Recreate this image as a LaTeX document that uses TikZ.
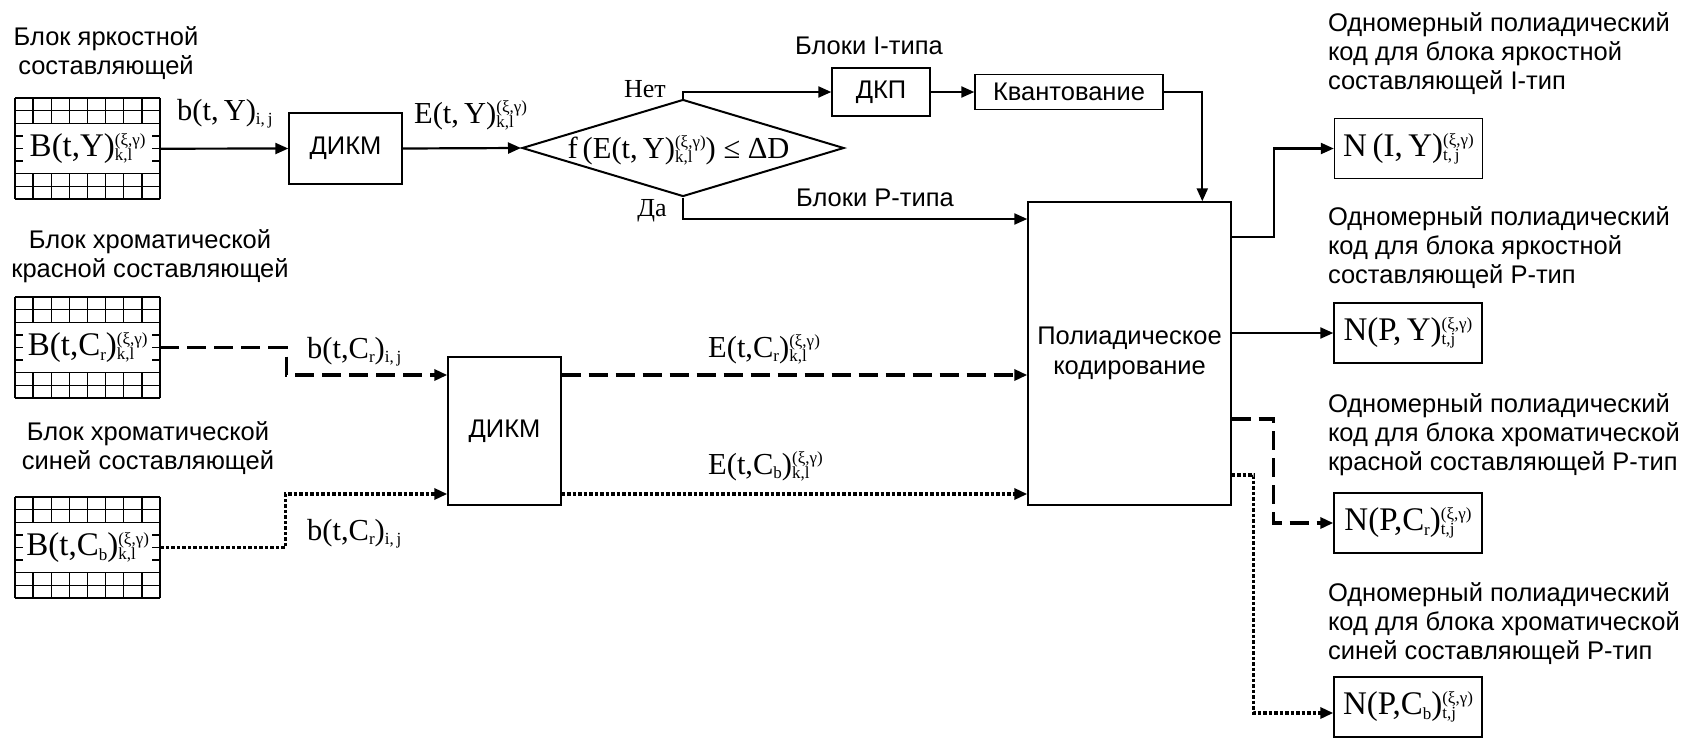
\documentclass[tikz,border=0pt]{standalone}
\usepackage{fontspec}
\setmainfont{Liberation Sans}
\newfontfamily\tms{Liberation Serif}
\usetikzlibrary{arrows.meta,shapes.geometric}
\newcommand\lo[1]{\raisebox{-4.5pt}{\fontsize{17}{17}\selectfont #1}}
\newcommand\sps[2]{{\fontsize{17}{17}\selectfont\setbox0\hbox{\raisebox{11pt}{#1}}\setbox2\hbox{\raisebox{-4pt}{#2}}\ifdim\wd0>\wd2 \rlap{\box2}\box0 \else\rlap{\box0}\box2 \fi}}
\newcommand\gridblk[4]{%
 \foreach \i in {0,...,8}{\draw[gridln] ({#2+\i*18.125},#3) -- ({#2+\i*18.125},{#3+101});}
 \foreach \j in {0,...,8}{\draw[gridln] (#2,{#3+\j*12.625}) -- ({#2+145},{#3+\j*12.625});}
 \fill[white] ({#2+8},{#3+26.05}) rectangle ({#2+137},{#3+74.95});
 \node[inner sep=0pt, minimum width=145pt, minimum height=101pt, anchor=north west, font=\fontsize{33}{35}\selectfont\tms] (#1) at (#2,#3) {#4};
}
\tikzset{
 txt/.style={font=\fontsize{25.5}{29}\selectfont, inner sep=0pt, outer sep=0pt},
 frm/.style={font=\fontsize{30.5}{32}\selectfont\tms, inner sep=0pt},
 box/.style={draw, line width=1.4pt, inner sep=0pt, font=\fontsize{25.5}{30}\selectfont},
 nbox/.style={draw, line width=1.4pt, inner sep=0pt, minimum width=148pt, minimum height=60pt, font=\fontsize{33}{35}\selectfont\tms},
 conn/.style={line width=2.2pt, -{Triangle[length=13pt,width=11pt]}},
 dsh/.style={conn, line width=3.2pt, dash pattern=on 19pt off 8pt},
 dtt/.style={conn, line width=3.2pt, dash pattern=on 3.5pt off 2pt},
 gridln/.style={line width=1.3pt},
}
\begin{document}
\begin{tikzpicture}[x=1pt,y=-1pt]
\path[use as bounding box, fill=white] (0,0) rectangle (1684,737);
% input blocks
\gridblk{gY}{15}{98}{\raisebox{-6pt}{B(t,Y)\sps{(ξ,γ)}{k,l}}}
\gridblk{gCr}{15}{297}{\raisebox{-6pt}{B(t,C\lo{r})\sps{(ξ,γ)}{k,l}}}
\gridblk{gCb}{15}{497}{\raisebox{-6pt}{B(t,C\lo{b})\sps{(ξ,γ)}{k,l}}}
\node[txt, align=center, anchor=north] (lblY) at (106,27) {Блок яркостной\\составляющей};
\node[txt, align=center, anchor=north] (lblCr) at (150,230) {Блок хроматической\\красной составляющей};
\node[txt, align=center, anchor=north] (lblCb) at (148,422) {Блок хроматической\\синей составляющей};
% processing boxes
\node[box, minimum width=113pt, minimum height=71pt] (dikm1) at (345.5,148.5) {ДИКМ};
\node[diamond, draw, line width=2pt, minimum width=322pt, minimum height=97pt, inner sep=0pt] (dia) at (683,148) {};
\node[frm, anchor=base] (cond) at (678.5,158) {f\,(E(t,\,Y)\sps{(ξ,γ)}{k,l}) ≤ ΔD};
\node[box, minimum width=98pt, minimum height=48pt] (dkp) at (881,92) {ДКП};
\node[box, minimum width=188pt, minimum height=35pt] (kvant) at (1069,92) {Квантование};
\node[box, minimum width=203pt, minimum height=303pt, align=center] (poly) at (1129.5,353.5) {Полиадическое\\кодирование};
\node[box, minimum width=113pt, minimum height=148pt] (dikm2) at (504.5,431) {ДИКМ};
% labels
\node[txt, anchor=north] (lblI) at (869,37) {Блоки I-типа};
\node[txt, anchor=north] (lblP) at (875,189) {Блоки P-типа};
\node[font=\fontsize{26}{28}\selectfont\tms, inner sep=0pt, anchor=base] (net) at (645,97) {Нет};
\node[font=\fontsize{26}{28}\selectfont\tms, inner sep=0pt, anchor=base] (da) at (652,216) {Да};
\node[frm, anchor=base west] (bY) at (177,120) {b(t,\,Y)\lo{i,\,j}};
\node[frm, anchor=base west] (EY) at (414,123) {E(t,\,Y)\sps{(ξ,γ)}{k,l}};
\node[frm, anchor=base west] (bCr) at (307,358) {b(t,C\lo{r})\lo{i,\,j}};
\node[frm, anchor=base west] (bCb) at (307,540) {b(t,C\lo{r})\lo{i,\,j}};
\node[frm, anchor=base west] (ECr) at (708,357) {E(t,C\lo{r})\sps{(ξ,γ)}{k,l}};
\node[frm, anchor=base west] (ECb) at (708,474) {E(t,C\lo{b})\sps{(ξ,γ)}{k,l}};
% outputs
\node[nbox] (NIY) at (1408.5,148.5) {N\,(I,\,Y)\sps{(ξ,γ)}{t,\,j}};
\node[nbox] (NPY) at (1408,333) {N(P,\,Y)\sps{(ξ,γ)}{t,j}};
\node[nbox] (NPCr) at (1408,523) {N(P,C\lo{r})\sps{(ξ,γ)}{t,j}};
\node[nbox] (NPCb) at (1408,707) {N(P,C\lo{b})\sps{(ξ,γ)}{t,j}};
\node[txt, align=left, anchor=north west] (o1) at (1328,13) {Одномерный полиадический\\код для блока яркостной\\составляющей I-тип};
\node[txt, align=left, anchor=north west] (o2) at (1328,207) {Одномерный полиадический\\код для блока яркостной\\составляющей P-тип};
\node[txt, align=left, anchor=north west] (o3) at (1328,394) {Одномерный полиадический\\код для блока хроматической\\красной составляющей P-тип};
\node[txt, align=left, anchor=north west] (o4) at (1328,583) {Одномерный полиадический\\код для блока хроматической\\синей составляющей P-тип};
% connectors
\draw[conn] (gY.east) -- (dikm1.west);
\draw[conn] (dikm1.east) -- (dia.west);
\draw[conn] (dia.north) |- (dkp.west);
\draw[conn] (dkp.east) -- (kvant.west);
\draw[conn] (kvant.east) -| ([xshift=175pt]poly.north west);
\draw[conn] (dia.south) |- (poly.west |- 0,219);
\draw[dsh] (gCr.east) -- ++(126,0) |- (dikm2.west |- 0,375);
\draw[dsh] (dikm2.east |- 0,375) -- (poly.west |- 0,375);
\draw[dtt] (gCb.east) -- ++(125,0) |- (dikm2.west |- 0,494);
\draw[dtt] (dikm2.east |- 0,494) -- (poly.west |- 0,494);
\draw[conn] (poly.east |- 0,237) -- ++(42,0) |- (NIY.west);
\draw[conn] (poly.east |- NPY.west) -- (NPY.west);
\draw[dsh] (poly.east |- 0,419) -- ++(42,0) |- (NPCr.west);
\draw[dtt] (poly.east |- 0,475) -- ++(22,0) |- ([yshift=-6pt]NPCb.west);
\end{tikzpicture}
\end{document}
